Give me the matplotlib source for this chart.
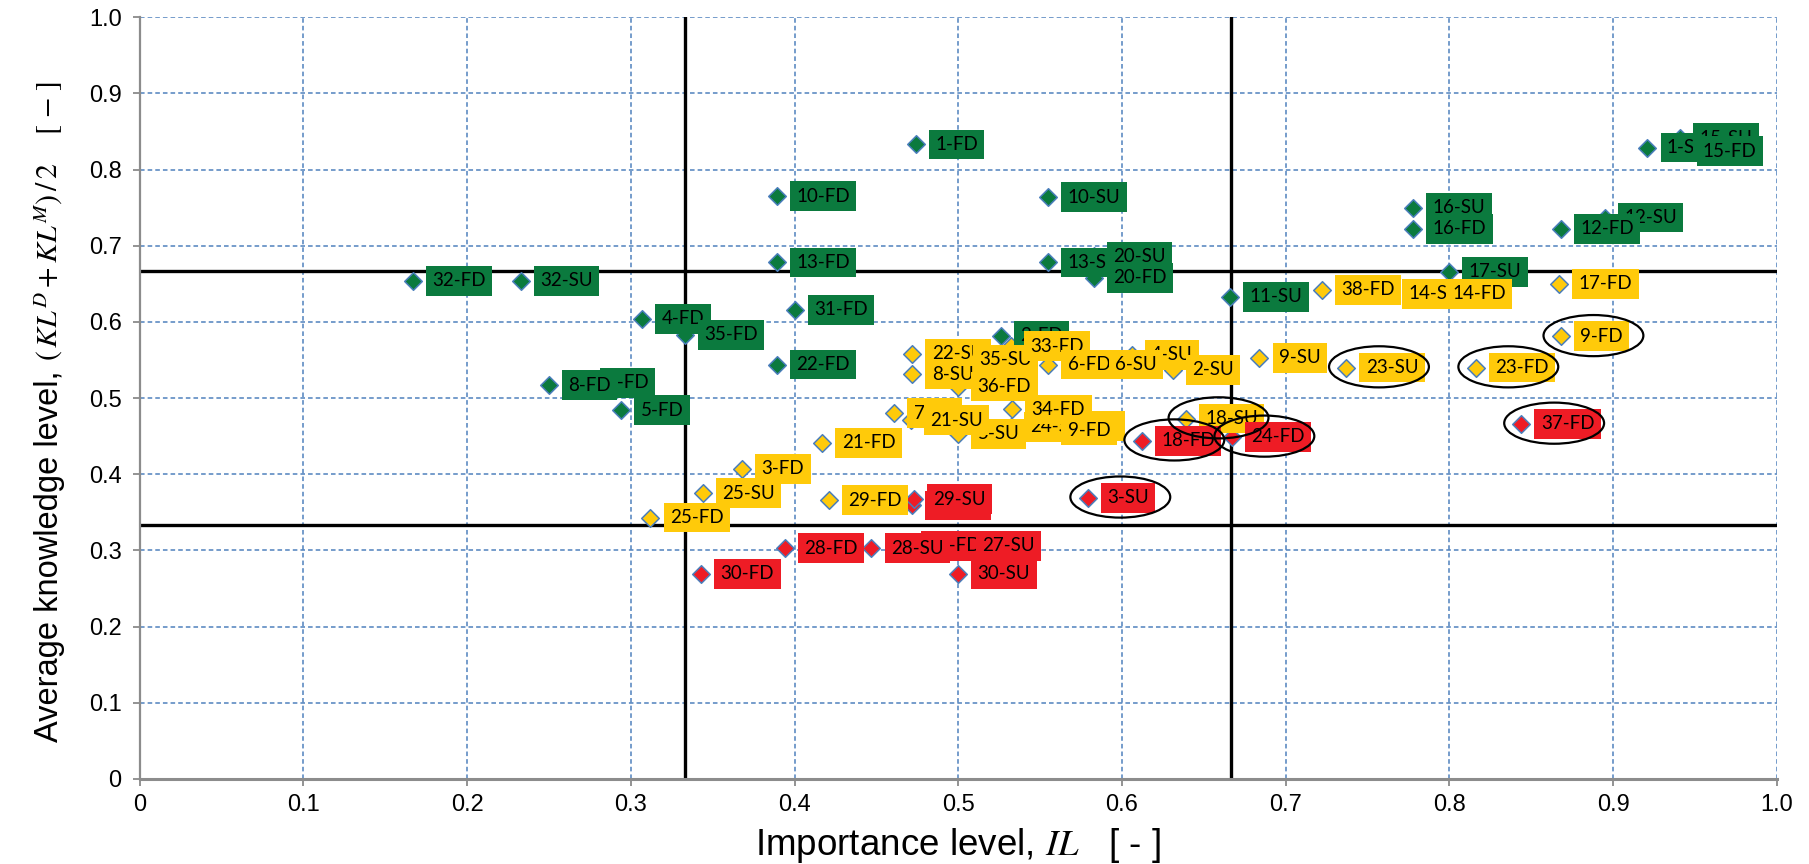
import numpy as np
import matplotlib
matplotlib.use('Agg')
import matplotlib.pyplot as plt
from matplotlib.patches import Ellipse

plt.rcParams['font.family'] = 'Liberation Sans'
plt.rcParams['mathtext.fontset'] = 'stix'

# ---- data: (importance level IL, average knowledge level) per item ----
# order inside each group = drawing order of the labels (later ones on top)
green_labels = ['7-FD', '8-FD', '5-FD', '32-FD', '32-SU', '4-FD', '35-FD', '31-FD', '22-FD',
                '2-FD', '1-FD', '10-FD', '10-SU', '13-FD', '13-SU', '20-SU', '20-FD', '11-SU',
                '16-SU', '16-FD', '17-SU', '12-SU', '12-FD', '1-SU', '15-SU', '15-FD']
green_il = [0.273, 0.250, 0.294, 0.167, 0.233, 0.307, 0.333, 0.400, 0.389,
            0.526, 0.474, 0.389, 0.555, 0.389, 0.555, 0.583, 0.583, 0.666,
            0.778, 0.778, 0.800, 0.895, 0.868, 0.921, 0.941, 0.943]
green_kl = [0.520, 0.517, 0.484, 0.654, 0.654, 0.604, 0.583, 0.616, 0.544,
            0.582, 0.833, 0.765, 0.764, 0.678, 0.678, 0.686, 0.658, 0.633,
            0.750, 0.722, 0.666, 0.737, 0.722, 0.829, 0.841, 0.824]
green_circled = [0] * len(green_labels)

yellow_labels = ['26-SU', '24-SU', '7-SU', '5-SU', '21-SU', '34-FD', '9-FD',
                 '22-SU', '8-SU', '35-SU', '36-FD', '33-FD', '6-FD', '4-SU', '6-SU', '2-SU',
                 '14-SU', '14-FD', '38-FD', '17-FD', '9-FD', '9-SU', '23-SU', '23-FD',
                 '18-SU', '21-FD', '3-FD', '25-SU', '25-FD', '29-FD']
yellow_il = [0.554, 0.532, 0.461, 0.500, 0.471, 0.533, 0.555,
             0.472, 0.472, 0.501, 0.500, 0.532, 0.555, 0.606, 0.584, 0.631,
             0.763, 0.790, 0.722, 0.867, 0.868, 0.684, 0.737, 0.816,
             0.639, 0.417, 0.368, 0.344, 0.312, 0.421]
yellow_kl = [0.463, 0.462, 0.480, 0.453, 0.471, 0.485, 0.458,
             0.558, 0.531, 0.550, 0.515, 0.568, 0.544, 0.557, 0.544, 0.537,
             0.637, 0.637, 0.642, 0.650, 0.581, 0.553, 0.540, 0.540,
             0.473, 0.441, 0.407, 0.375, 0.343, 0.366]
yellow_circled = [0, 0, 0, 0, 0, 0, 0,
                  0, 0, 0, 0, 0, 0, 0, 0, 0,
                  0, 0, 0, 0, 1, 0, 1, 1,
                  1, 0, 0, 0, 0, 0]

red_labels = ['18-FD', '24-FD', '37-FD', '3-SU', '19-SU', '29-SU',
              '28-FD', '27-FD', '28-SU', '27-SU', '30-FD', '30-SU']
red_il = [0.612, 0.667, 0.844, 0.579, 0.472, 0.473,
          0.394, 0.469, 0.447, 0.503, 0.343, 0.500]
red_kl = [0.444, 0.449, 0.466, 0.369, 0.359, 0.367,
          0.303, 0.306, 0.303, 0.306, 0.269, 0.269]
red_circled = [1, 1, 1, 1, 0, 0, 0, 0, 0, 0, 0, 0]

ticks = np.round(np.arange(0, 1.01, 0.1), 1)
tick_labels = ['0', '0.1', '0.2', '0.3', '0.4', '0.5', '0.6', '0.7', '0.8', '0.9', '1.0']
bounds = [1 / 3, 2 / 3]

groups = [
    (green_labels, green_il, green_kl, green_circled, '#0B7A3E'),
    (yellow_labels, yellow_il, yellow_kl, yellow_circled, '#FFCA0A'),
    (red_labels, red_il, red_kl, red_circled, '#EE1C25'),
]

fig = plt.figure(figsize=(18.09, 8.64), dpi=100)
ax = fig.add_axes([0.0772, 0.0986, 0.905, 0.8814])
ax.set_xlim(0, 1)
ax.set_ylim(0, 1)

ax.set_xticks(ticks)
ax.set_yticks(ticks)
ax.set_xticklabels(tick_labels, fontsize=17)
ax.set_yticklabels(tick_labels, fontsize=17)
ax.tick_params(axis='both', colors='#808080', labelcolor='black', length=5, width=1.2)
ax.tick_params(axis='x', pad=6)
ax.tick_params(axis='y', pad=8)
ax.grid(True, color='#4F81BD', linestyle=(0, (3, 2)), linewidth=1.1, zorder=0)
ax.set_axisbelow(True)
for s in ['top', 'right']:
    ax.spines[s].set_visible(False)
ax.spines['left'].set_color('#8C8C8C')
ax.spines['left'].set_linewidth(1.6)
ax.spines['bottom'].set_color('#8C8C8C')
ax.spines['bottom'].set_linewidth(2.2)

# quadrant borders
for b in bounds:
    ax.axvline(b, color='black', lw=2.4, zorder=2)
    ax.axhline(b, color='black', lw=2.4, zorder=2)

# markers first, all labels on top
for labels, xs, ys, circ, col in groups:
    ax.scatter(xs, ys, marker='D', s=80, facecolor=col, edgecolor='#4A7EBB',
               linewidth=1.1, zorder=3)

for labels, xs, ys, circ, col in groups:
    for lab, x, y in zip(labels, xs, ys):
        ax.annotate(lab, (x, y), xytext=(14, 0), textcoords='offset points',
                    ha='left', va='center', fontsize=13.5, family='Lato',
                    bbox=dict(boxstyle='square,pad=0.34', fc=col, ec='none'),
                    zorder=4)

for labels, xs, ys, circ, col in groups:
    for x, y, c in zip(xs, ys, circ):
        if c:
            ax.add_patch(Ellipse((x + 0.02, y + 0.001), 0.061, 0.054, fill=False,
                                 ec='black', lw=1.6, zorder=5))

ax.set_xlabel(r'Importance level, $\mathit{IL}$   [ - ]', fontsize=26.5)
ax.xaxis.label.set_verticalalignment('center')
ax.xaxis.set_label_coords(0.5, -0.088)

# y label in two parts: plain words, then the formula in a serif face
ax.text(-0.05, 0.5487, 'Average knowledge level, ', transform=ax.transAxes,
        rotation=90, rotation_mode='anchor', ha='right', va='baseline', fontsize=23.5)
ax.text(-0.05, 0.5487, r'$(\,KL^{D}+KL^{M})\,/\,2\quad\ [\ \mathrm{-}\ ]$',
        transform=ax.transAxes, rotation=90, rotation_mode='anchor',
        ha='left', va='baseline', fontsize=21.5)

plt.savefig('out.png', dpi=100)
